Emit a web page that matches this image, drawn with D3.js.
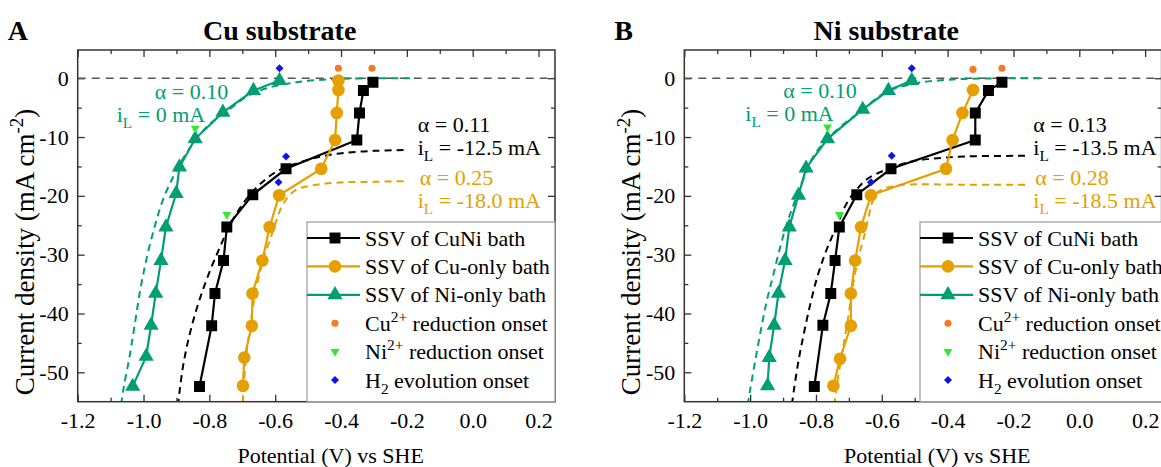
<!DOCTYPE html>
<html>
<head>
<meta charset="utf-8">
<script src="https://cdn.jsdelivr.net/npm/d3@7"></script>
<style>
body { margin: 0; background: #fff; }
svg, svg text { font-family: "Liberation Serif", "Times New Roman", serif; }
</style>
</head>
<body>
<script>
// axis ticks
var xTicks      = [-1.2, -1.0, -0.8, -0.6, -0.4, -0.2, 0.0, 0.2];
var xTickLabels = ['-1.2', '-1.0', '-0.8', '-0.6', '-0.4', '-0.2', '0.0', '0.2'];
var xMinor      = [-1.1, -0.9, -0.7, -0.5, -0.3, -0.1, 0.1];
var yTicks      = [0, -10, -20, -30, -40, -50];
var yTickLabels = ['0', '-10', '-20', '-30', '-40', '-50'];
var yMinor      = [-5, -15, -25, -35, -45];

// panel A, Cu substrate  [potential V, current density mA cm-2]
var ssvCuNiA = [[-0.303,-0.7],[-0.332,-2.1],[-0.344,-5.9],[-0.352,-10.5],[-0.567,-15.4],[-0.668,-19.8],
                [-0.747,-25.3],[-0.757,-31.0],[-0.783,-36.6],[-0.793,-42.1],[-0.830,-52.4]];
var ssvCuA   = [[-0.408,-0.4],[-0.408,-2.0],[-0.413,-5.9],[-0.418,-10.5],[-0.460,-15.4],[-0.588,-19.9],
                [-0.617,-25.3],[-0.639,-31.0],[-0.669,-36.6],[-0.671,-42.1],[-0.694,-47.5],[-0.698,-52.3]];
var ssvNiA   = [[-0.587,-0.4],[-0.666,-2.1],[-0.759,-5.8],[-0.843,-10.3],[-0.891,-15.1],[-0.901,-19.6],
                [-0.932,-25.3],[-0.947,-31.0],[-0.963,-36.6],[-0.977,-42.0],[-0.992,-47.3],[-1.033,-52.4]];
var fitCuNiA = [[-0.21,-12.2],[-0.30,-12.35],[-0.39,-12.7],[-0.46,-13.3],[-0.53,-14.4],[-0.60,-16.0],
                [-0.655,-18.5],[-0.70,-21.5],[-0.74,-25.3],[-0.77,-29.0],[-0.80,-33.0],[-0.826,-37.0],
                [-0.848,-41.0],[-0.866,-45.0],[-0.88,-49.0],[-0.89,-53.0],[-0.895,-55.5]];
var fitCuA   = [[-0.21,-17.5],[-0.30,-17.6],[-0.394,-17.7],[-0.474,-18.1],[-0.534,-18.9],[-0.56,-20.1],
                [-0.58,-21.8],[-0.595,-24.0],[-0.61,-26.5],[-0.636,-30.8],[-0.655,-35.0],[-0.668,-39.0],
                [-0.678,-43.0],[-0.688,-47.2],[-0.695,-52.0],[-0.699,-55.5]];
var fitNiA   = [[-0.19,0.0],[-0.30,-0.03],[-0.40,-0.1],[-0.47,-0.3],[-0.52,-0.55],[-0.555,-0.85],
                [-0.626,-1.7],[-0.686,-3.1],[-0.737,-5.2],[-0.795,-7.6],[-0.840,-10.3],[-0.878,-13.5],
                [-0.910,-16.8],[-0.940,-20.5],[-0.965,-25.0],[-0.990,-30.5],[-1.010,-36.0],[-1.027,-42.0],
                [-1.043,-47.5],[-1.060,-52.5],[-1.068,-55.5]];
var cuOnsetA = [[-0.408,1.7],[-0.306,1.7]];
var niOnsetA = [[-0.843,-8.5],[-0.747,-23.2]];
var h2OnsetA = [[-0.587,1.7],[-0.567,-13.3],[-0.590,-17.7]];
var fitTextA = [['0.10','0'],['0.11','-12.5'],['0.25','-18.0']];

// panel B, Ni substrate
var ssvCuNiB = [[-0.235,-0.7],[-0.276,-2.1],[-0.316,-5.9],[-0.316,-10.5],[-0.572,-15.4],[-0.676,-19.8],
                [-0.729,-25.3],[-0.742,-31.0],[-0.755,-36.6],[-0.779,-42.0],[-0.805,-52.4]];
var ssvCuB   = [[-0.323,-2.0],[-0.355,-5.9],[-0.385,-10.5],[-0.405,-15.4],[-0.633,-19.9],[-0.663,-25.3],
                [-0.681,-31.0],[-0.694,-36.6],[-0.694,-42.1],[-0.727,-47.7],[-0.747,-52.3]];
var ssvNiB   = [[-0.509,-0.4],[-0.580,-2.1],[-0.658,-5.3],[-0.765,-10.3],[-0.830,-15.3],[-0.853,-19.9],
                [-0.881,-25.3],[-0.894,-31.0],[-0.914,-36.6],[-0.927,-42.0],[-0.942,-47.5],[-0.947,-52.3]];
var fitCuNiB = [[-0.165,-13.2],[-0.342,-13.3],[-0.45,-13.7],[-0.504,-14.1],[-0.585,-15.5],[-0.646,-17.2],
                [-0.676,-18.9],[-0.706,-21.2],[-0.74,-25.5],[-0.77,-29.5],[-0.795,-33.6],[-0.816,-38.1],
                [-0.836,-43.2],[-0.852,-47.7],[-0.867,-53.0],[-0.873,-55.5]];
var fitCuB   = [[-0.165,-18.1],[-0.35,-18.1],[-0.524,-18.1],[-0.585,-18.6],[-0.615,-19.5],[-0.63,-21.2],
                [-0.64,-23.5],[-0.652,-26.5],[-0.671,-30.5],[-0.688,-35.3],[-0.703,-41.0],[-0.72,-46.6],
                [-0.737,-52.3],[-0.744,-55.5]];
var fitNiB   = [[-0.12,0.0],[-0.25,-0.03],[-0.35,-0.12],[-0.42,-0.35],[-0.494,-0.85],[-0.585,-2.3],
                [-0.666,-5.7],[-0.747,-9.3],[-0.808,-13.3],[-0.843,-17.8],[-0.868,-21.5],[-0.89,-25.0],
                [-0.91,-29.0],[-0.93,-33.5],[-0.95,-38.0],[-0.968,-43.0],[-0.986,-48.5],[-1.0,-53.0],
                [-1.007,-55.5]];
var cuOnsetB = [[-0.323,1.5],[-0.235,1.7]];
var niOnsetB = [[-0.765,-8.3],[-0.729,-23.2]];
var h2OnsetB = [[-0.509,1.7],[-0.570,-13.2],[-0.633,-17.7]];
var fitTextB = [['0.10','0'],['0.13','-13.5'],['0.28','-18.5']];

var legendLabels = [
  [['SSV of CuNi bath', '']],
  [['SSV of Cu-only bath', '']],
  [['SSV of Ni-only bath', '']],
  [['Cu', ''], ['2+', 'sup'], [' reduction onset', '']],
  [['Ni', ''], ['2+', 'sup'], [' reduction onset', '']],
  [['H', ''], ['2', 'sub'], [' evolution onset', '']]
];

var BLACK = '#000', ORANGE = '#E69F00', GREEN = '#009E73';
var CU_ON = '#F57A26', NI_ON = '#2EEA2E', H2_ON = '#1010F0';
var FONT = '"Liberation Serif", "Times New Roman", serif';
var FS = 22;

var svg = d3.select('body').append('svg')
            .attr('width', 1161)
            .attr('height', 467)
            .attr('font-family', FONT);

var PW = 477.3, PH = 351.7;
var x = d3.scaleLinear().domain([-1.2, 0.25]).range([0, PW]);
var y = d3.scaleLinear().domain([4.8, -55]).range([0, PH]);

var line = d3.line()
             .x(function(d) { return x(d[0]); })
             .y(function(d) { return y(d[1]); });
var smooth = d3.line()
               .x(function(d) { return x(d[0]); })
               .y(function(d) { return y(d[1]); })
               .curve(d3.curveCatmullRom);

function addParts(text, parts, size) {
    var shift = 0;
    parts.forEach(function(p) {
        var target = p[1] === 'sup' ? -0.4 * size : (p[1] === 'sub' ? 0.28 * size : 0);
        text.append('tspan')
            .attr('dy', target - shift)
            .attr('font-size', p[1] ? size * 0.7 : size)
            .text(p[0]);
        shift = target;
    });
}

function marker(g, pts, type, size, fill, rotate) {
    g.selectAll(null)
     .data(pts)
     .enter()
     .append('path')
     .attr('d', d3.symbol().type(type).size(size))
     .attr('transform', function(d) {
         return 'translate(' + x(d[0]) + ',' + y(d[1]) + ')' + (rotate ? ' rotate(' + rotate + ')' : '');
     })
     .attr('fill', fill);
}

function drawPanel(left, top, letter, title, ssv, fits, onsets, fitText, notePos, legendLeft, id) {
    var g = svg.append('g').attr('transform', 'translate(' + left + ',' + top + ')');

    g.append('clipPath').attr('id', id)
     .append('rect').attr('width', PW).attr('height', PH);

    // headings
    svg.append('text').attr('x', left - 70).attr('y', 40)
       .attr('font-size', 28).attr('font-weight', 'bold').text(letter);
    svg.append('text').attr('x', left + 202).attr('y', 40).attr('text-anchor', 'middle')
       .attr('font-size', 28).attr('font-weight', 'bold').text(title);

    // axes
    var fmt = function(d) { return xTickLabels[xTicks.indexOf(d)]; };
    var fmtY = function(d) { return yTickLabels[yTicks.indexOf(d)]; };
    g.append('g').attr('transform', 'translate(0,' + PH + ')')
     .call(d3.axisBottom(x).tickValues(xTicks).tickFormat(fmt).tickSize(-7).tickPadding(11));
    g.append('g').attr('transform', 'translate(0,' + PH + ')')
     .call(d3.axisBottom(x).tickValues(xMinor).tickFormat('').tickSize(-4));
    g.append('g').call(d3.axisTop(x).tickValues(xTicks).tickFormat('').tickSize(-7));
    g.append('g').call(d3.axisTop(x).tickValues(xMinor).tickFormat('').tickSize(-4));
    g.append('g')
     .call(d3.axisLeft(y).tickValues(yTicks).tickFormat(fmtY).tickSize(-7).tickPadding(9));
    g.append('g').call(d3.axisLeft(y).tickValues(yMinor).tickFormat('').tickSize(-4));
    g.append('g').attr('transform', 'translate(' + PW + ',0)')
     .call(d3.axisRight(y).tickValues(yTicks).tickFormat('').tickSize(-7));
    g.append('g').attr('transform', 'translate(' + PW + ',0)')
     .call(d3.axisRight(y).tickValues(yMinor).tickFormat('').tickSize(-4));
    g.selectAll('.domain').remove();
    g.selectAll('.tick line').attr('stroke', '#333').attr('stroke-width', 1.3);
    g.selectAll('.tick text').attr('font-size', FS).attr('fill', '#000').attr('font-family', FONT);
    g.selectAll('g').attr('font-family', FONT);

    var plot = g.append('g').attr('clip-path', 'url(#' + id + ')');

    // zero line
    plot.append('line').attr('x1', 0).attr('x2', PW).attr('y1', y(0)).attr('y2', y(0))
        .attr('stroke', '#555').attr('stroke-width', 1.6).attr('stroke-dasharray', '8,6');

    var colors = [BLACK, ORANGE, GREEN];
    var shapes = [d3.symbolSquare, d3.symbolCircle, d3.symbolTriangle];
    var sizes = [120, 125, 100];
    var noteColors = [GREEN, BLACK, ORANGE];

    fits.forEach(function(f, i) {
        plot.append('path').attr('d', smooth(f)).attr('fill', 'none')
            .attr('stroke', colors[i]).attr('stroke-width', 2).attr('stroke-dasharray', '7,5');
    });
    ssv.forEach(function(s, i) {
        plot.append('path').attr('d', line(s)).attr('fill', 'none')
            .attr('stroke', colors[i]).attr('stroke-width', 2.2);
        marker(plot, s, shapes[i], sizes[i], colors[i]);
    });
    marker(plot, onsets[0], d3.symbolCircle, 40, CU_ON);
    marker(plot, onsets[1], d3.symbolTriangle, 34, NI_ON, 180);
    marker(plot, onsets[2], d3.symbolSquare, 32, H2_ON, 45);

    // fit annotations
    fitText.forEach(function(t, i) {
        var p = notePos[i];
        g.append('text').attr('x', p[0] + p[2]).attr('y', p[1]).attr('font-size', FS)
         .attr('fill', noteColors[i]).text('\u03b1 = ' + t[0]);
        var tl = g.append('text').attr('x', p[0]).attr('y', p[1] + 23).attr('font-size', FS)
                  .attr('fill', noteColors[i]);
        addParts(tl, [['i', ''], ['L', 'sub'], [' = ' + t[1] + ' mA', '']], FS);
    });

    // frame
    g.append('rect').attr('width', PW).attr('height', PH).attr('fill', 'none')
     .attr('stroke', '#333').attr('stroke-width', 1.5);

    // legend
    var lg = g.append('g').attr('transform', 'translate(' + legendLeft + ',172)');
    lg.append('rect').attr('width', 248).attr('height', PH - 172).attr('fill', '#fff')
      .attr('stroke', '#999').attr('stroke-width', 1.2);
    legendLabels.forEach(function(parts, i) {
        var cy = 16 + i * 28.4;
        if (i < 3) {
            lg.append('line').attr('x1', 0).attr('x2', 53).attr('y1', cy).attr('y2', cy)
              .attr('stroke', colors[i]).attr('stroke-width', 2.2);
            lg.append('path').attr('d', d3.symbol().type(shapes[i]).size(sizes[i]))
              .attr('transform', 'translate(28,' + cy + ')').attr('fill', colors[i]);
        } else {
            var c = [CU_ON, NI_ON, H2_ON][i - 3];
            var sh = [d3.symbolCircle, d3.symbolTriangle, d3.symbolSquare][i - 3];
            var sz = [40, 34, 32][i - 3];
            var rot = [0, 180, 45][i - 3];
            lg.append('path').attr('d', d3.symbol().type(sh).size(sz))
              .attr('transform', 'translate(28,' + cy + ') rotate(' + rot + ')').attr('fill', c);
        }
        var t = lg.append('text').attr('x', 58).attr('y', cy + 7.5).attr('font-size', FS);
        addParts(t, parts, FS);
    });

    // axis titles
    svg.append('text').attr('x', left + 253).attr('y', 463).attr('text-anchor', 'middle')
       .attr('font-size', FS).text('Potential (V) vs SHE');
    var yt = svg.append('text').attr('transform', 'translate(' + (left - 44) + ',' + (top + 202) + ') rotate(-90)')
                .attr('text-anchor', 'middle').attr('font-size', 27);
    addParts(yt, [['Current density (mA cm', ''], ['-2', 'sup'], [')', '']], 27);
}

drawPanel(77.7, 50, 'A', 'Cu substrate',
          [ssvCuNiA, ssvCuA, ssvNiA], [fitCuNiA, fitCuA, fitNiA],
          [cuOnsetA, niOnsetA, h2OnsetA], fitTextA,
          [[39, 49, 38], [340, 82, 0], [340, 135, 2]], 229.3, 'clipA');
drawPanel(684.3, 50, 'B', 'Ni substrate',
          [ssvCuNiB, ssvCuB, ssvNiB], [fitCuNiB, fitCuB, fitNiB],
          [cuOnsetB, niOnsetB, h2OnsetB], fitTextB,
          [[61, 48, 38], [349, 82, 0], [349, 135, 2]], 235.7, 'clipB');
</script>
</body>
</html>
